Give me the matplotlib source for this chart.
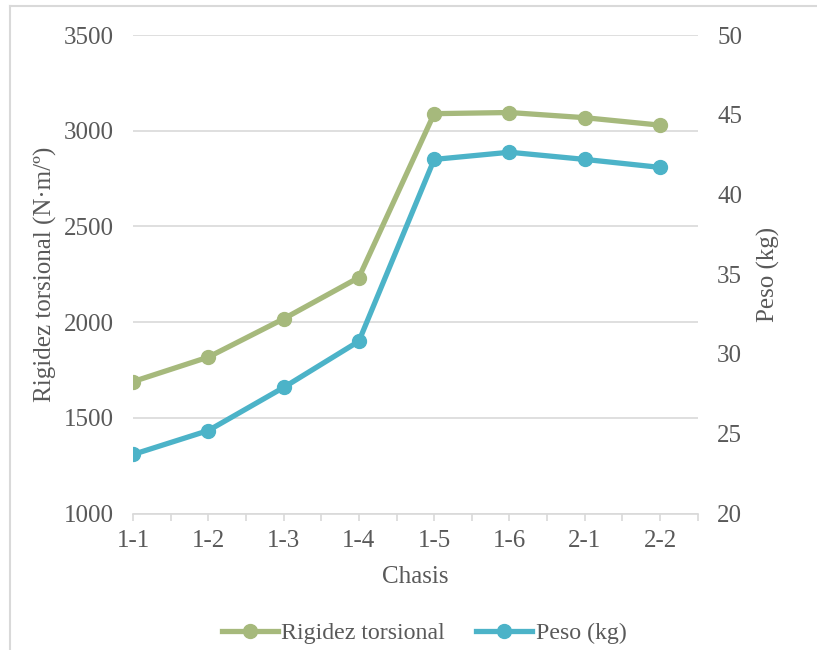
import matplotlib
matplotlib.use("Agg")
import matplotlib.pyplot as plt
from matplotlib.lines import Line2D

# Chassis variants and measured results
chasis = ["1-1", "1-2", "1-3", "1-4", "1-5", "1-6", "2-1", "2-2"]
rigidez = [1689, 1817, 2017, 2233, 3089, 3095, 3068, 3029]   # N·m/º
peso = [23.7, 25.2, 27.9, 30.8, 42.2, 42.65, 42.2, 41.7]     # kg

left_ticks = [1000, 1500, 2000, 2500, 3000, 3500]
right_ticks = [20, 25, 30, 35, 40, 45, 50]

green = "#A6B97C"
blue = "#4CB3C8"
text_c = "#595959"
grid_c = "#D9D9D9"

plt.rcParams["font.family"] = ["Liberation Serif", "DejaVu Serif"]

W, H = 817, 650
fig = plt.figure(figsize=(W / 100, H / 100), dpi=100)
ax = fig.add_axes([133 / W, 1 - 513.5 / H, (697.7 - 133) / W, (513.5 - 35) / H])
ax2 = ax.twinx()

lw, ms = 3.8, 10
x = list(range(len(chasis)))
ax.plot(x, rigidez, color=green, lw=lw, marker="o", ms=ms, zorder=3,
        solid_joinstyle="round")
ax2.plot(x, peso, color=blue, lw=lw, marker="o", ms=ms, zorder=3,
         solid_joinstyle="round")

ax.set_xlim(0, 7.5)
ax.set_ylim(1000, 3500)
ax2.set_ylim(20, 50)
ax.set_yticks(left_ticks)
ax2.set_yticks(right_ticks)
ax.set_xticks(x)
ax.set_xticklabels(chasis)
ax.set_xticks([i + 0.5 for i in x], minor=True)

ax.grid(axis="y", color=grid_c, lw=1.2)
ax.set_axisbelow(True)
for a in (ax, ax2):
    for s in a.spines.values():
        s.set_visible(False)
ax.spines["bottom"].set_visible(True)
ax.spines["bottom"].set_color(grid_c)
ax.spines["bottom"].set_linewidth(1.2)

fs = 18
ax.tick_params(axis="x", which="both", colors=grid_c, length=5, width=1.2,
               labelcolor=text_c, labelsize=fs, pad=7)
ax.tick_params(axis="y", length=0, labelcolor=text_c, labelsize=fs, pad=14)
ax2.tick_params(axis="y", length=0, labelcolor=text_c, labelsize=fs, pad=14)

ax.set_xlabel("Chasis", color=text_c, fontsize=fs)
ax.xaxis.set_label_coords(0.5, 1 - (577 - 35) / (513.5 - 35), transform=ax.transAxes)
ax.xaxis.label.set_va("center")
ax.set_ylabel("Rigidez torsional (N·m/º)", color=text_c, fontsize=fs)
ax.yaxis.set_label_coords((45 - 133) / (697.7 - 133), 0.5)
ax.yaxis.label.set_va("center")
ax2.set_ylabel("Peso (kg)", color=text_c, fontsize=fs)
ax2.yaxis.set_label_coords((768 - 133) / (697.7 - 133), 0.5)
ax2.yaxis.label.set_va("center")

handles = [
    Line2D([], [], color=green, lw=lw, marker="o", ms=ms),
    Line2D([], [], color=blue, lw=lw, marker="o", ms=ms),
]
fig.legend(handles, ["Rigidez torsional", "Peso (kg)"], loc="center",
           bbox_to_anchor=(424 / W, 1 - 633 / H), ncol=2, frameon=False,
           fontsize=17.2, labelcolor=text_c, handlelength=2.35, handletextpad=0.15,
           columnspacing=1.3)

# Outer chart frame
fig.add_artist(Line2D([10 / W, 1], [1 - 6 / H, 1 - 6 / H], color=grid_c, lw=1.5,
                      transform=fig.transFigure))
fig.add_artist(Line2D([10 / W, 10 / W], [1 - 6 / H, 0], color=grid_c, lw=1.5,
                      transform=fig.transFigure))

fig.savefig("out.png", dpi=100)
